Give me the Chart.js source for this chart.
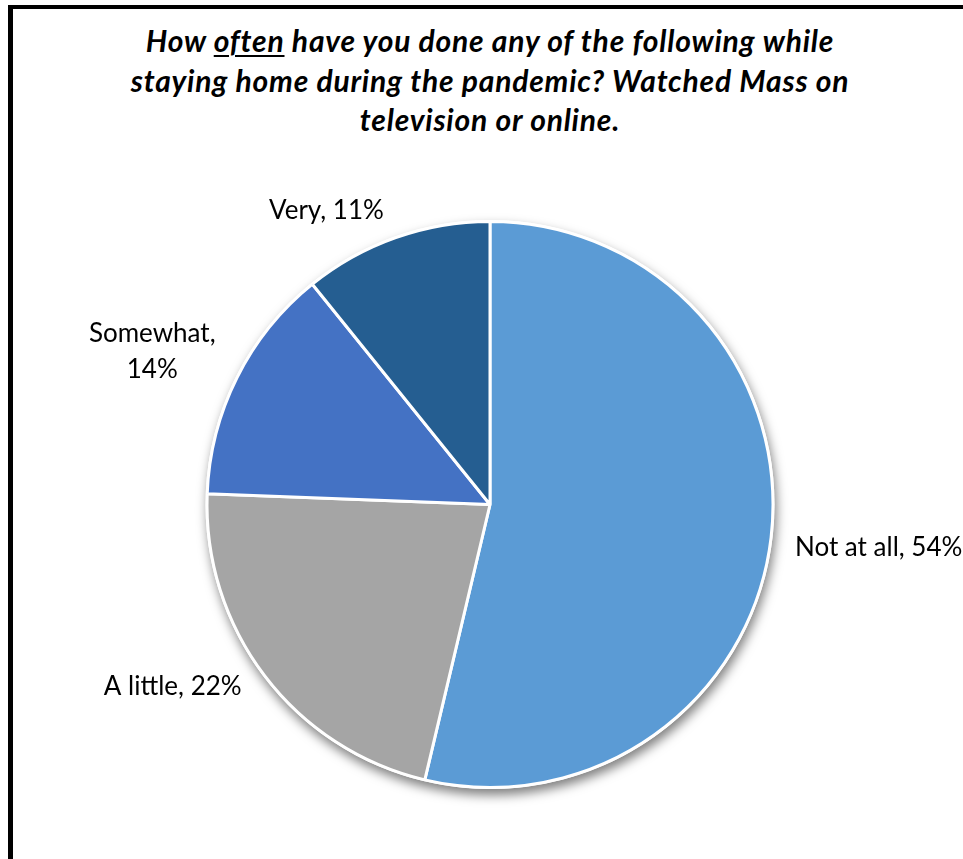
<!DOCTYPE html>
<html>
<head>
<meta charset="utf-8">
<script src="https://cdn.jsdelivr.net/npm/chart.js@4/dist/chart.umd.min.js"></script>
<style>
  html, body { margin: 0; padding: 0; background: #fff; }
  #wrap { position: relative; width: 963px; height: 859px; overflow: hidden; }
  #frame {
    position: absolute; left: 8px; top: 5px; width: 1000px; height: 900px;
    border-left: 5px solid #000; border-top: 4px solid #000; box-sizing: border-box;
  }
  #title {
    position: absolute; left: 40px; top: 21px; width: 900px;
    text-align: center; font-family: Lato, sans-serif; font-weight: bold; font-style: italic;
    font-size: 30px; letter-spacing: 0.8px; line-height: 39.5px; color: #000;
  }
  #title u { text-decoration-thickness: 2px; text-underline-offset: 3px; }
  canvas { position: absolute; left: 0; top: 0; }
</style>
</head>
<body>
<div id="wrap">
  <div id="frame"></div>
  <div id="title">How <u>often</u> have you done any of the following while<br>staying home during the pandemic? Watched Mass on<br>television or online.</div>
  <canvas id="pieChart" width="963" height="859"></canvas>
</div>
<script>
const categories = ['Not at all', 'A little', 'Somewhat', 'Very'];
// shares; the labels show them rounded
const percents = [53.7, 21.9, 13.6, 10.8];
const colors = ['#5B9BD5', '#A5A5A5', '#4472C4', '#255E91'];

// soft shadow under the whole pie, drawn from the arc geometry
const pieShadow = {
  id: 'pieShadow',
  beforeDatasetsDraw(chart) {
    const arc = chart.getDatasetMeta(0).data[0];
    if (!arc) return;
    const ctx = chart.ctx;
    ctx.save();
    ctx.shadowColor = 'rgba(0,0,0,0.5)';
    ctx.shadowBlur = 11;
    ctx.shadowOffsetX = 2;
    ctx.shadowOffsetY = 6;
    ctx.fillStyle = '#fff';
    ctx.beginPath();
    ctx.arc(arc.x, arc.y, arc.outerRadius + 1.5, 0, Math.PI * 2);
    ctx.fill();
    ctx.restore();
  }
};

// outside-end labels like Excel: "Category, NN%"
const outsideLabels = {
  id: 'outsideLabels',
  afterDatasetsDraw(chart) {
    const ctx = chart.ctx;
    const meta = chart.getDatasetMeta(0);
    ctx.save();
    ctx.font = '26px Lato, sans-serif';
    ctx.fillStyle = '#000';
    ctx.textBaseline = 'middle';
    meta.data.forEach((arc, i) => {
      const mid = (arc.startAngle + arc.endAngle) / 2;
      const r = arc.outerRadius + 24;
      const x = arc.x + Math.cos(mid) * r;
      const y = arc.y + Math.sin(mid) * r;
      const pct = Math.round(percents[i]) + '%';
      const text = categories[i] + ', ' + pct;
      const right = Math.cos(mid) >= 0;
      const w = ctx.measureText(text).width;
      if (!right && x - w < 60) {
        // too wide for the space on the left: wrap after the comma, centred
        const lines = [categories[i] + ',', pct];
        const bw = Math.max(...lines.map(l => ctx.measureText(l).width));
        ctx.textAlign = 'center';
        const lh = 36;
        lines.forEach((l, k) => {
          ctx.fillText(l, x - bw / 2, y - 15 + (k - (lines.length - 1) / 2) * lh);
        });
      } else {
        ctx.textAlign = right ? 'left' : 'right';
        ctx.fillText(text, x - (right ? 0 : 4), y + (right ? 8 : -4));
      }
    });
    ctx.restore();
  }
};

new Chart(document.getElementById('pieChart').getContext('2d'), {
  type: 'pie',
  data: {
    labels: categories,
    datasets: [{
      data: percents,
      backgroundColor: colors,
      borderColor: '#fff',
      borderWidth: 3
    }]
  },
  options: {
    responsive: false,
    animation: false,
    radius: 283,
    layout: { padding: { left: 207, right: 190, top: 221, bottom: 71 } },
    plugins: {
      legend: { display: false },
      title: { display: false },
      tooltip: { enabled: false }
    }
  },
  plugins: [pieShadow, outsideLabels]
});
</script>
</body>
</html>
